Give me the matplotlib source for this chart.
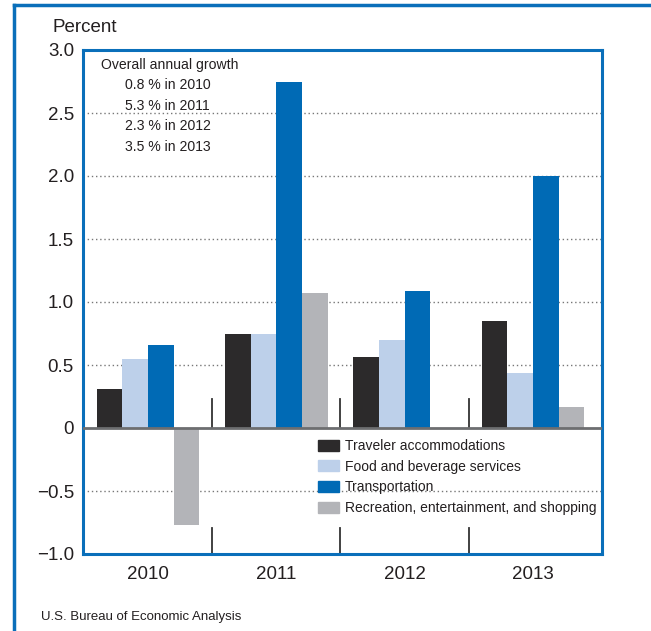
import numpy as np
import matplotlib.pyplot as plt
from matplotlib.lines import Line2D

plt.rcParams['font.family'] = ['Liberation Sans', 'DejaVu Sans']

years = ['2010', '2011', '2012', '2013']
series_names = ['Traveler accommodations', 'Food and beverage services',
                'Transportation', 'Recreation, entertainment, and shopping']
accommodations = [0.31, 0.75, 0.56, 0.85]
food_beverage = [0.55, 0.75, 0.70, 0.44]
transportation = [0.66, 2.75, 1.09, 2.00]
recreation = [-0.77, 1.07, -0.01, 0.17]
growth_notes = ['0.8 % in 2010', '5.3 % in 2011', '2.3 % in 2012', '3.5 % in 2013']
yticks = [-1.0, -0.5, 0, 0.5, 1.0, 1.5, 2.0, 2.5, 3.0]
ytick_labels = ['\u22121.0', '\u22120.5', '0', '0.5', '1.0', '1.5', '2.0', '2.5', '3.0']

colors = ['#2c2a2b', '#bdd0ea', '#006ab5', '#b3b4b8']
blue = '#0a6fba'
txt = '#231f20'

fig = plt.figure(figsize=(6.51, 6.31), dpi=100)
ax = fig.add_axes([83/651, 1 - 554/631, 519/651, 504/631])

x = np.arange(len(years))
w = 0.2
all_series = [accommodations, food_beverage, transportation, recreation]
for i, (vals, name) in enumerate(zip(all_series, series_names)):
    ax.bar(x + (i - 1.5) * w, vals, w, color=colors[i], label=name, zorder=3)

ax.set_ylim(-1.0, 3.0)
ax.set_xlim(-0.507, 3.539)
ax.set_yticks(yticks)
ax.set_yticklabels(ytick_labels, fontsize=13.5, color=txt)
ax.set_xticks(x)
ax.set_xticklabels(years, fontsize=13.5, color=txt)
ax.tick_params(length=0)
ax.tick_params(axis='y', pad=6.5)
ax.tick_params(axis='x', pad=8.5)

# dotted grid
for yv in yticks:
    if yv not in (0, -1.0):
        ax.axhline(yv, color='#777777', linestyle=(0, (1, 2)), linewidth=1, zorder=1)
ax.axhline(0, color='#6d6e70', linewidth=2, zorder=4)

# group separators
for s in [0.5, 1.5, 2.5]:
    ax.plot([s, s], [0, 0.23], color='#333333', linewidth=1.3, zorder=2)
    ax.plot([s, s], [-1.0, -0.79], color='#333333', linewidth=1.3, zorder=2)

for sp in ax.spines.values():
    sp.set_color(blue)
    sp.set_linewidth(2.2)

# annotation
ax.text(0.034, 0.970, 'Overall annual growth', transform=ax.transAxes,
        fontsize=10.1, va='center', ha='left', color=txt)
for k, note in enumerate(growth_notes):
    ax.text(0.081, 0.9306 - k * 0.041, note, transform=ax.transAxes,
            fontsize=10.1, va='center', ha='left', color=txt)

handles = [plt.Rectangle((0, 0), 1, 1, color=c) for c in colors]
leg = ax.legend(handles, series_names, loc='upper left', bbox_to_anchor=(0.453, 0.228),
                frameon=False, fontsize=10, handlelength=1.5, handleheight=0.85,
                handletextpad=0.45, labelspacing=0.48, borderaxespad=0, borderpad=0)
for t in leg.get_texts():
    t.set_color(txt)

fig.text(52/651, 1 - 27/631, 'Percent', fontsize=13.5, va='center', ha='left', color=txt)
fig.text(41/651, 1 - 617/631, 'U.S. Bureau of Economic Analysis', fontsize=9.5,
         va='center', ha='left', color=txt)

# outer frame (left and top)
fig.add_artist(Line2D([14/651, 14/651], [0, 1 - 5/631], color=blue, linewidth=2.5,
                      transform=fig.transFigure))
fig.add_artist(Line2D([14/651, 1], [1 - 5/631, 1 - 5/631], color=blue, linewidth=2.5,
                      transform=fig.transFigure))

fig.savefig('out.png', dpi=100)
